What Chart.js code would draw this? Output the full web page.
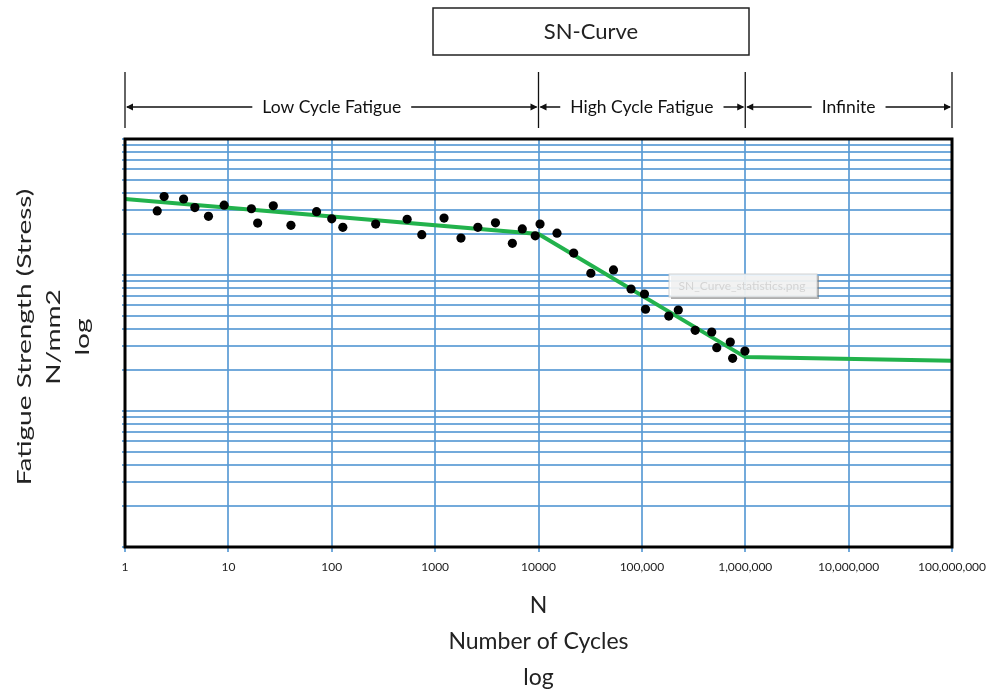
<!DOCTYPE html>
<html>
<head>
<meta charset="utf-8">
<script src="https://cdn.jsdelivr.net/npm/chart.js@4"></script>
<style>
  html, body { margin: 0; padding: 0; background: #fff; }
  #wrap { width: 992px; height: 692px; }
</style>
</head>
<body>
<div id="wrap"><canvas id="snChart"></canvas></div>
<script>
// x axis: number of cycles (log)
const xTicks = [1, 10, 100, 1000, 10000, 100000, 1000000, 10000000, 100000000];
const xTickLabels = ['1', '10', '100', '1000', '10000', '100,000', '1,000,000', '10,000,000', '100,000,000'];

// y axis: stress (log), gridlines only, no labels
const yGrid = [1, 2, 3, 4, 5, 6, 7, 8, 9,
  10, 20, 30, 40, 50, 60, 70, 80, 90,
  100, 200, 300, 400, 500, 600, 700, 800, 900, 1000];
const yTitle = ['Fatigue Strength (Stress)', 'N/mm2', 'log'];

// fitted SN curve
const curveN = [1, 10000, 1000000, 100000000];
const curveS = [362, 200, 24.9, 23.4];

// test points
const testN = [2.05, 2.39, 3.69, 4.74, 6.42, 9.1, 16.7, 19.2, 27.2, 40.3, 71.3, 100,
  128, 266, 536, 743, 1220, 1778, 2590, 3835, 5585, 6970, 9300,
  10350, 15100, 21900, 32100, 53150, 78550,
  106000, 108500, 182000, 225000, 328000, 474000, 530000, 717000, 755000, 993000];
const testS = [296, 377, 362, 313, 270, 326, 307, 241, 323, 232, 292, 259,
  224, 237, 257, 198, 262, 187, 224, 242, 171, 218, 194,
  237, 203, 145, 103, 109, 78.9,
  72.5, 56, 49.9, 55.3, 39.2, 38.1, 29.2, 32.1, 24.4, 27.6];

// regions along the top
const regionEdges = [1, 10000, 1000000, 100000000];
const regionLabels = ['Low Cycle Fatigue', 'High Cycle Fatigue', 'Infinite'];

const FONT = 'Lato, "Open Sans", sans-serif';
const gridColor = 'rgba(91,155,213,0.85)';

function arrowHead(ctx, x, y, dir) {
  ctx.beginPath();
  ctx.moveTo(x, y);
  ctx.lineTo(x - dir * 7, y - 3.5);
  ctx.lineTo(x - dir * 7, y + 3.5);
  ctx.closePath();
  ctx.fill();
}

const sheetDecor = {
  id: 'sheetDecor',
  afterDatasetsDraw(chart) {
    const {ctx, chartArea: a} = chart;
    ctx.save();
    ctx.strokeStyle = '#000';
    ctx.lineWidth = 3;
    ctx.strokeRect(a.left, a.top, a.right - a.left, a.bottom - a.top);
    ctx.restore();
  },
  afterDraw(chart) {
    const {ctx, scales: {x}} = chart;
    ctx.save();

    // title box
    ctx.strokeStyle = '#222';
    ctx.lineWidth = 1.5;
    ctx.strokeRect(433, 8, 316, 47);
    ctx.fillStyle = '#222';
    ctx.font = '22px ' + FONT;
    ctx.textAlign = 'center';
    ctx.textBaseline = 'middle';
    ctx.fillText('SN-Curve', 591, 32);

    // region arrows
    const yArrow = 107;
    ctx.strokeStyle = '#111';
    ctx.fillStyle = '#111';
    ctx.lineWidth = 1.3;
    const px = regionEdges.map(v => x.getPixelForValue(v));
    px.forEach(p => {
      ctx.beginPath();
      ctx.moveTo(p, 72);
      ctx.lineTo(p, 128);
      ctx.stroke();
    });
    ctx.font = '17.5px ' + FONT;
    regionLabels.forEach((label, i) => {
      const l = px[i], r = px[i + 1], mid = (l + r) / 2;
      const w = ctx.measureText(label).width / 2 + 10;
      ctx.beginPath();
      ctx.moveTo(l + 2, yArrow);
      ctx.lineTo(mid - w, yArrow);
      ctx.moveTo(mid + w, yArrow);
      ctx.lineTo(r - 2, yArrow);
      ctx.stroke();
      arrowHead(ctx, l + 1, yArrow, -1);
      arrowHead(ctx, r - 1, yArrow, 1);
      ctx.fillText(label, mid, yArrow);
    });

    // y axis title, stretched along its length like the source
    ctx.fillStyle = '#222';
    ctx.font = '20px ' + FONT;
    [25, 54, 83].forEach((cx, i) => {
      ctx.save();
      ctx.translate(cx, 337);
      ctx.rotate(-Math.PI / 2);
      ctx.scale(1.4, 1);
      ctx.fillText(yTitle[i], 0, 0);
      ctx.restore();
    });

    // faint file-name tooltip left in the screenshot
    ctx.fillStyle = 'rgba(120,120,120,0.6)';
    ctx.fillRect(671, 276, 148, 23);
    ctx.fillStyle = 'rgba(255,255,255,0.85)';
    ctx.fillRect(669, 274, 148, 23);
    ctx.strokeStyle = 'rgba(200,200,200,0.8)';
    ctx.lineWidth = 1;
    ctx.strokeRect(669, 274, 148, 23);
    ctx.fillStyle = '#d4d4d4';
    ctx.font = '12px ' + FONT;
    ctx.fillText('SN_Curve_statistics.png', 742, 286);

    ctx.restore();
  }
};

new Chart(document.getElementById('snChart'), {
  type: 'scatter',
  data: {
    datasets: [
      {
        label: 'Tests',
        data: testN.map((n, i) => ({x: n, y: testS[i]})),
        backgroundColor: '#000',
        borderWidth: 0,
        pointRadius: 4.6,
        order: 1
      },
      {
        label: 'SN curve',
        data: curveN.map((n, i) => ({x: n, y: curveS[i]})),
        showLine: true,
        borderColor: '#22b24c',
        borderWidth: 4,
        pointRadius: 0,
        order: 2
      }
    ]
  },
  options: {
    responsive: true,
    maintainAspectRatio: false,
    animation: false,
    layout: {padding: {top: 139, right: 40, left: 0, bottom: 0}},
    plugins: {legend: {display: false}, tooltip: {enabled: false}},
    scales: {
      x: {
        type: 'logarithmic',
        min: 1,
        max: 100000000,
        afterBuildTicks: s => { s.ticks = xTicks.map(v => ({value: v})); },
        afterFit: s => { s.height = 145; s.paddingLeft = 0; s.paddingRight = 0; },
        grid: {color: gridColor, lineWidth: 2, tickLength: 5},
        border: {display: false},
        ticks: {
          autoSkip: false, maxRotation: 0, padding: 8, color: '#222',
          font: {family: FONT, size: 12},
          callback: (v, i) => xTickLabels[i]
        },
        title: {
          display: true,
          text: ['N', 'Number of Cycles', 'log'],
          color: '#222',
          font: {family: FONT, size: 23, lineHeight: 1.55},
          padding: {top: 0, bottom: -3}
        }
      },
      y: {
        type: 'logarithmic',
        min: 1,
        max: 1000,
        afterBuildTicks: s => { s.ticks = yGrid.map(v => ({value: v})); },
        afterFit: s => { s.width = 125; },
        grid: {color: gridColor, lineWidth: 2, tickLength: 3},
        border: {display: false},
        ticks: {display: false},
        title: {display: false}
      }
    }
  },
  plugins: [sheetDecor]
});
</script>
</body>
</html>
